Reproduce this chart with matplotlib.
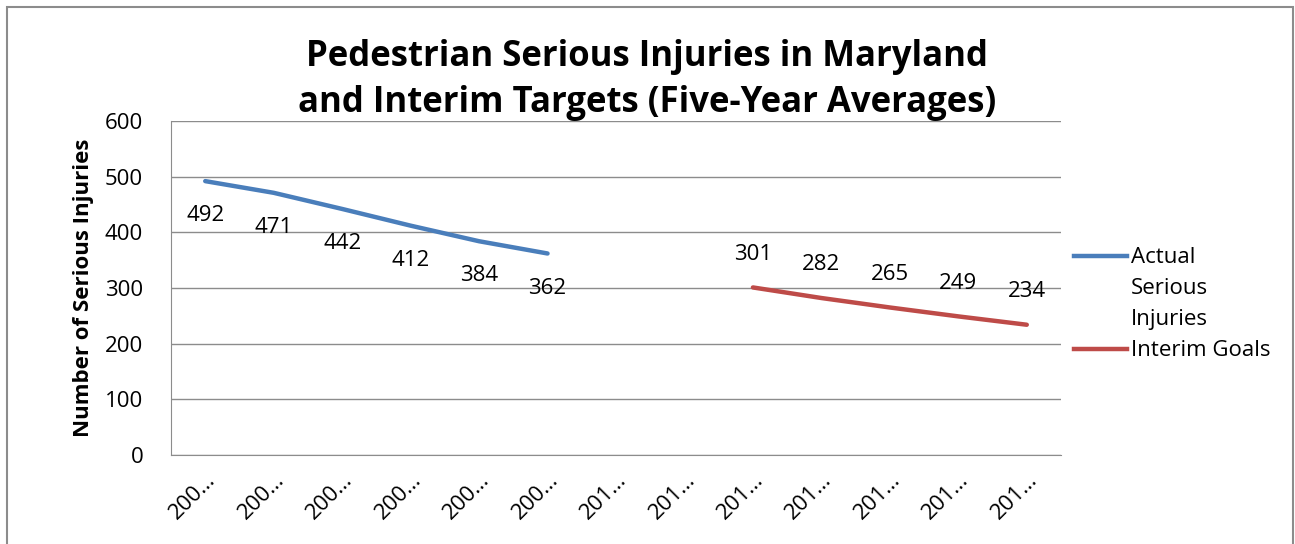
import matplotlib
matplotlib.use("Agg")
import matplotlib.pyplot as plt
from matplotlib.lines import Line2D
from matplotlib.patches import Rectangle

plt.rcParams["font.family"] = ["Open Sans", "DejaVu Sans"]

# ---- data ----
tick_labels = ["200\u2026"] * 6 + ["201\u2026"] * 7
actual_x = [0, 1, 2, 3, 4, 5]
actual_vals = [492, 471, 442, 412, 384, 362]
goal_x = [8, 9, 10, 11, 12]
goal_vals = [301, 282, 265, 249, 234]

BLUE = "#4A7EBB"
RED = "#BE4B48"
FS = 16

fig = plt.figure(figsize=(12.95, 5.44), dpi=100)
ax = fig.add_axes([171 / 1295, 89 / 544, 890 / 1295, 334 / 544])

ax.plot(actual_x, actual_vals, color=BLUE, lw=3.2, solid_capstyle="round")
ax.plot(goal_x, goal_vals, color=RED, lw=3.2, solid_capstyle="round")

for x, v in zip(actual_x, actual_vals):
    ax.annotate(str(v), (x, v), xytext=(0, -25), textcoords="offset points",
                ha="center", va="center", fontsize=FS)
for x, v in zip(goal_x, goal_vals):
    ax.annotate(str(v), (x, v), xytext=(0, 24), textcoords="offset points",
                ha="center", va="center", fontsize=FS)

ax.set_xlim(-0.5, 12.5)
ax.set_ylim(0, 600)
ax.set_yticks(range(0, 601, 100))
ax.set_xticks(range(len(tick_labels)))
ax.set_xticklabels(tick_labels, rotation=45, ha="right", rotation_mode="anchor",
                   fontsize=FS)
ax.tick_params(axis="y", labelsize=FS, length=0, pad=20)
ax.tick_params(axis="x", length=0, pad=10)
ax.yaxis.grid(True, color="#8c8c8c", lw=1)
ax.set_axisbelow(True)
for side in ["top", "right"]:
    ax.spines[side].set_visible(False)
ax.spines["left"].set_color("#8c8c8c")
ax.spines["bottom"].set_color("#8c8c8c")

ax.set_ylabel("Number of Serious Injuries", fontsize=FS, fontweight="bold",
              labelpad=8)

fig.text(0.5, 0.853, "Pedestrian Serious Injuries in Maryland\nand Interim Targets (Five-Year Averages)",
         ha="center", va="center", fontsize=25, fontweight="bold", linespacing=1.35)

# legend: the blue key sits beside the first line of a wrapped label
blank = Line2D([], [], color="none")
handles = [Line2D([], [], color=BLUE, lw=3.2), blank, blank,
           Line2D([], [], color=RED, lw=3.2)]
labels = ["Actual", "Serious", "Injuries", "Interim Goals"]
ax.legend(handles, labels, loc="upper left", bbox_to_anchor=(0.997, 0.668),
          frameon=False, fontsize=FS, handlelength=2.4, handletextpad=0.15,
          labelspacing=0.45, borderaxespad=0.3)

fig.patches.append(Rectangle((7 / 1295, -0.02), 1286 / 1295, 1.02 - 7 / 544,
                             transform=fig.transFigure, fill=False,
                             edgecolor="#8c8c8c", lw=1.5))

fig.savefig("out.png", dpi=100)
